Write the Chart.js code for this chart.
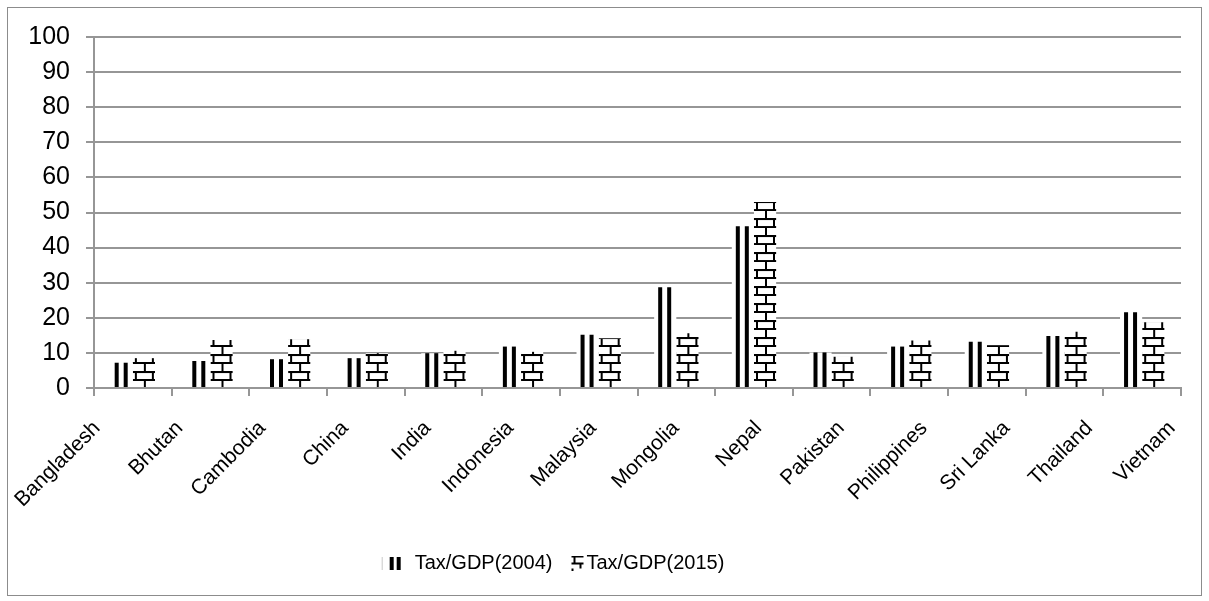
<!DOCTYPE html>
<html>
<head>
<meta charset="utf-8">
<script src="https://cdn.jsdelivr.net/npm/chart.js@4.4.1/dist/chart.umd.min.js"></script>
<style>
  html, body { margin: 0; padding: 0; background: #fff; }
  #wrap { width: 1209px; height: 601px; position: relative; }
</style>
</head>
<body>
<div id="wrap"><canvas id="chart" width="1209" height="601"></canvas></div>
<script>
// Tax revenue as a share of GDP, by country
const categories = ['Bangladesh', 'Bhutan', 'Cambodia', 'China', 'India', 'Indonesia', 'Malaysia',
  'Mongolia', 'Nepal', 'Pakistan', 'Philippines', 'Sri Lanka', 'Thailand', 'Vietnam'];
const tax2004 = [7.2, 7.7, 8.2, 8.5, 9.9, 11.8, 15.2, 28.7, 46.1, 10.1, 11.8, 13.2, 14.8, 21.6];
const tax2015 = [8.5, 13.7, 13.9, 9.9, 10.6, 10.3, 14.2, 15.6, 53.0, 8.9, 13.5, 12.2, 16.0, 18.7];
const seriesNames = ['Tax/GDP(2004)', 'Tax/GDP(2015)'];
const yMin = 0, yMax = 100, yStep = 10;

const FONT = '"Liberation Sans", Arial, sans-serif';
const GRID = '#969696';
const CAT_PCT = 0.571;
// the rotated country names are laid out on their own slightly wider index track
const LABEL_MIN = -0.036, LABEL_MAX = 13.108;

// --- fill patterns -------------------------------------------------------
function makeTile(w, h, paint, bg) {
  const c = document.createElement('canvas');
  c.width = w; c.height = h;
  const g = c.getContext('2d');
  if (bg) { g.fillStyle = bg; g.fillRect(0, 0, w, h); }
  g.fillStyle = '#000';
  paint(g);
  return c;
}
// two dark vertical stripes per bar
const stripeTile = makeTile(40, 8, g => {
  g.fillRect(4, 0, 4, 8);
  g.fillRect(13, 0, 4, 8);
}, '#fff');
// horizontal brick
const brickTile = makeTile(17, 17, g => {
  g.fillRect(0, 0, 17, 2);
  g.fillRect(2, 2, 2, 6);
  g.fillRect(0, 8, 17, 2);
  g.fillRect(11, 10, 2, 7);
}, '#fff');

function barFill(ctx) {
  const chart = ctx.chart;
  const tile = ctx.datasetIndex === 0 ? stripeTile : brickTile;
  const pat = chart.ctx.createPattern(tile, 'repeat');
  const xs = chart.scales && chart.scales.x;
  if (ctx.type === 'data' && xs && chart.chartArea) {
    const groupW = (xs.width / categories.length) * CAT_PCT;
    const barW = groupW / 2;
    const left = xs.getPixelForValue(ctx.dataIndex) - groupW / 2 + ctx.datasetIndex * barW;
    pat.setTransform(new DOMMatrix().translate(left, chart.chartArea.bottom));
  }
  return pat;
}

// legend swatches
const legendStripe = makeTile(40, 13, g => {
  g.fillStyle = '#c8c8c8';
  g.fillRect(7, 0, 1, 13);
  g.fillStyle = '#000';
  g.fillRect(15, 0, 4, 13);
  g.fillRect(22, 0, 4, 13);
});
const legendBrick = makeTile(40, 15, g => {
  g.fillRect(25, 0, 12, 2);
  g.fillRect(27, 2, 2, 5);
  g.fillRect(25, 7, 12, 2);
  g.fillRect(33, 9, 2, 4);
  g.fillRect(25, 13, 2, 2);
});
const legendSwatches = [legendStripe, legendBrick];

// --- page frame ------------------------------------------------------------
const framePlugin = {
  id: 'frame',
  beforeDraw(chart) {
    const g = chart.ctx;
    g.save();
    g.fillStyle = '#fff';
    g.fillRect(0, 0, chart.width, chart.height);
    g.strokeStyle = '#8c8c8c';
    g.lineWidth = 1;
    g.strokeRect(7.5, 7.5, 1194, 588);
    g.restore();
  }
};
const legendShift = {
  id: 'legendShift',
  afterLayout(chart) {
    if (chart.legend) { chart.legend.left -= 40; chart.legend.right -= 40; }
  }
};

new Chart(document.getElementById('chart'), {
  type: 'bar',
  data: {
    labels: categories,
    datasets: [
      { label: seriesNames[0], data: tax2004, backgroundColor: barFill, borderWidth: 0 },
      { label: seriesNames[1], data: tax2015, backgroundColor: barFill, borderWidth: 0 }
    ]
  },
  options: {
    responsive: false,
    animation: false,
    devicePixelRatio: 1,
    layout: { padding: { left: 8, right: 28, top: 37, bottom: 18 } },
    datasets: { bar: { categoryPercentage: CAT_PCT, barPercentage: 1.0 } },
    scales: {
      x: {
        weight: 0,
        grid: { display: true, drawOnChartArea: false, drawTicks: true, tickLength: 8,
                offset: true, color: GRID, lineWidth: 2 },
        border: { display: true, color: GRID, width: 2 },
        ticks: { display: false },
        afterFit(scale) { scale.height = 8; }
      },
      xl: {
        type: 'linear',
        position: 'bottom',
        axis: 'x',
        weight: 1,
        offset: false,
        min: LABEL_MIN,
        max: LABEL_MAX,
        grid: { display: false, offset: false },
        border: { display: false },
        afterBuildTicks(scale) { scale.ticks = categories.map((_, i) => ({ value: i })); },
        ticks: {
          color: '#000', font: { family: FONT, size: 21 }, minRotation: 45, maxRotation: 45,
          autoSkip: false, padding: 12,
          callback: (v) => categories[Math.round(v)]
        },
        afterFit(scale) { scale.height = 153; }
      },
      y: {
        min: yMin, max: yMax,
        grid: { color: GRID, lineWidth: 2, drawTicks: true, tickLength: 8 },
        border: { display: true, color: GRID, width: 2 },
        ticks: { stepSize: yStep, color: '#000', font: { family: FONT, size: 25 }, padding: 16 },
        afterFit(scale) { scale.width = 86; }
      }
    },
    plugins: {
      tooltip: { enabled: false },
      legend: {
        position: 'bottom',
        labels: {
          font: { family: FONT, size: 20 },
          color: '#000',
          padding: 4,
          usePointStyle: true,
          pointStyleWidth: 20,
          generateLabels(chart) {
            return chart.data.datasets.map((ds, i) => ({
              text: ds.label,
              pointStyle: legendSwatches[i],
              fillStyle: '#fff',
              strokeStyle: '#fff',
              lineWidth: 0,
              fontColor: '#000',
              hidden: false,
              datasetIndex: i
            }));
          }
        }
      }
    }
  },
  plugins: [framePlugin, legendShift]
});
</script>
</body>
</html>
